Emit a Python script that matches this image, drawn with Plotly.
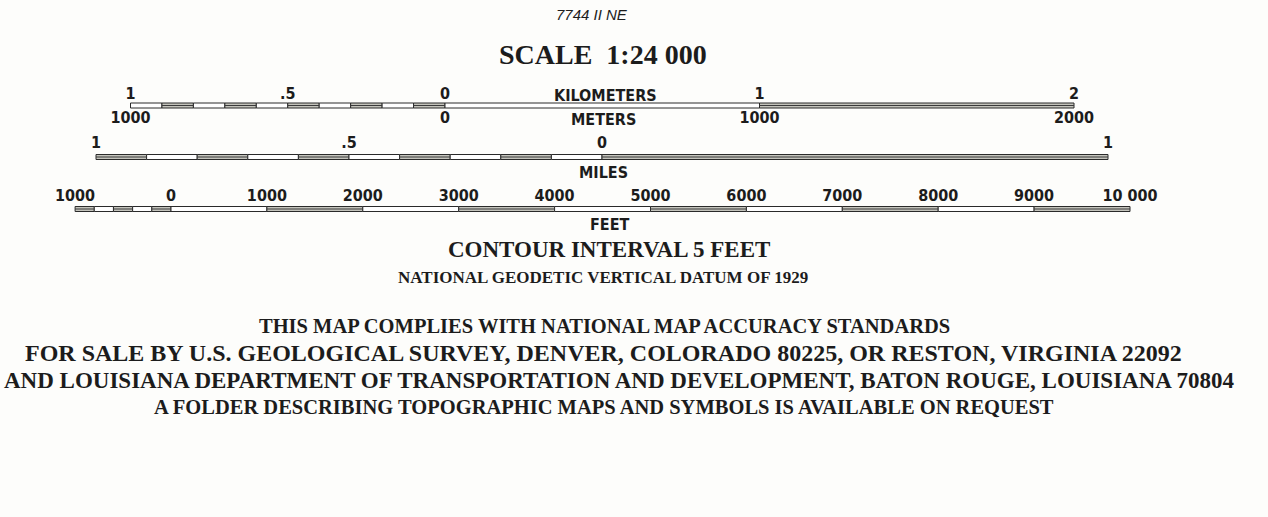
import plotly.graph_objects as go

# ---------------- data ----------------
# Kilometer / meter scale (values in km)
km_seg_start = [-1.0, -0.9, -0.8, -0.7, -0.6, -0.5, -0.4, -0.3, -0.2, -0.1, 0.0, 1.0]
km_seg_end   = [-0.9, -0.8, -0.7, -0.6, -0.5, -0.4, -0.3, -0.2, -0.1, 0.0, 1.0, 2.0]
km_seg_fill  = ["open", "shade", "open", "shade", "open", "shade", "open", "shade", "open", "shade", "open", "shade"]
km_ticks     = [-1.0, -0.5, 0.0, 1.0, 2.0]
km_labels    = ["1", ".5", "0", "1", "2"]
m_ticks      = [-1.0, 0.0, 1.0, 2.0]
m_labels     = ["1000", "0", "1000", "2000"]

# Mile scale (values in miles)
mi_seg_start = [-1.0, -0.9, -0.8, -0.7, -0.6, -0.5, -0.4, -0.3, -0.2, -0.1, 0.0]
mi_seg_end   = [-0.9, -0.8, -0.7, -0.6, -0.5, -0.4, -0.3, -0.2, -0.1, 0.0, 1.0]
mi_seg_fill  = ["shade", "open", "shade", "open", "shade", "open", "shade", "open", "shade", "open", "shade"]
mi_ticks     = [-1.0, -0.5, 0.0, 1.0]
mi_labels    = ["1", ".5", "0", "1"]

# Feet scale (values in feet)
ft_seg_start = [-1000, -800, -600, -400, -200, 0, 1000, 2000, 3000, 4000, 5000, 6000, 7000, 8000, 9000]
ft_seg_end   = [-800, -600, -400, -200, 0, 1000, 2000, 3000, 4000, 5000, 6000, 7000, 8000, 9000, 10000]
ft_seg_fill  = ["shade", "open", "shade", "open", "shade", "open", "shade", "open", "shade", "open",
                "shade", "open", "shade", "open", "shade"]
ft_ticks     = [-1000, 0, 1000, 2000, 3000, 4000, 5000, 6000, 7000, 8000, 9000, 10000]
ft_labels    = ["1000", "0", "1000", "2000", "3000", "4000", "5000", "6000", "7000", "8000", "9000", "10 000"]

# ---------------- styling ----------------
BG = "#fdfdfb"
INK = "#1c1c1c"
SHADE = "#c4c4bc"
SANS_N = "DejaVu Sans Condensed, Liberation Sans Narrow, Arial Narrow, sans-serif"
SERIF = "Liberation Serif, Times New Roman, serif"
W, H = 1268, 517

fig = go.Figure()


def add_scale(starts, ends, fills, yc, xaxis):
    lengths = [e - s for s, e in zip(starts, ends)]
    colors = ["white" if f == "open" else SHADE for f in fills]
    fig.add_trace(go.Bar(
        orientation="h", base=starts, x=lengths, y=[yc] * len(starts), width=5,
        marker=dict(color=colors, line=dict(color="#2a2a2a", width=1)),
        xaxis=xaxis, yaxis="y", hoverinfo="skip", showlegend=False,
    ))
    mx, my = [], []
    for s, e, f in zip(starts, ends, fills):
        if f == "shade":
            mx += [s, e, None]
            my += [yc, yc, None]
    fig.add_trace(go.Scatter(
        x=mx, y=my, mode="lines", line=dict(color="#3a3a3a", width=1),
        xaxis=xaxis, yaxis="y", hoverinfo="skip", showlegend=False,
    ))


def add_labels(xs, labels, yc, xaxis, size=16):
    fig.add_trace(go.Scatter(
        x=xs, y=[yc] * len(xs), text=labels, mode="text", textposition="middle center",
        textfont=dict(family=SANS_N, size=size, color=INK, weight="bold"),
        xaxis=xaxis, yaxis="y", hoverinfo="skip", showlegend=False,
    ))


add_scale(km_seg_start, km_seg_end, km_seg_fill, 105.5, "x")
add_labels(km_ticks, km_labels, 95, "x")
add_labels(m_ticks, m_labels, 119, "x")

add_scale(mi_seg_start, mi_seg_end, mi_seg_fill, 157, "x2")
add_labels(mi_ticks, mi_labels, 144, "x2")

add_scale(ft_seg_start, ft_seg_end, ft_seg_fill, 209, "x3")
add_labels(ft_ticks, ft_labels, 197, "x3")

# pixel -> unit mappings for the three overlaid axes
km_px0, km_ppu = 445.0, 314.5
mi_px0, mi_ppu = 602.0, 506.0
ft_px0, ft_ppu = 171.0, 0.0959

fig.update_layout(
    width=W, height=H,
    margin=dict(l=0, r=0, t=0, b=0),
    paper_bgcolor=BG, plot_bgcolor=BG,
    barmode="overlay",
    showlegend=False,
    xaxis=dict(range=[-km_px0 / km_ppu, (W - km_px0) / km_ppu], visible=False, domain=[0, 1]),
    xaxis2=dict(range=[-mi_px0 / mi_ppu, (W - mi_px0) / mi_ppu], visible=False,
                overlaying="x", anchor="y"),
    xaxis3=dict(range=[-ft_px0 / ft_ppu, (W - ft_px0) / ft_ppu], visible=False,
                overlaying="x", anchor="y"),
    yaxis=dict(range=[H, 0], visible=False, domain=[0, 1]),
)


def txt(text, xc, yc, size, family=SERIF, bold=True, italic=False):
    fig.add_annotation(
        x=xc / W, y=1 - yc / H, xref="paper", yref="paper", text=text, showarrow=False,
        xanchor="center", yanchor="middle",
        font=dict(family=family, size=size, color=INK,
                  weight="bold" if bold else "normal",
                  style="italic" if italic else "normal"),
    )


txt("7744 II NE", 592, 14, 15, family="Liberation Sans, Arial, sans-serif", bold=False, italic=True)
txt("SCALE&nbsp;&nbsp;1:24 000", 603, 54, 28)
txt("KILOMETERS", 605, 95, 16, family=SANS_N)
txt("METERS", 603, 120, 16, family=SANS_N)
txt("MILES", 603, 172, 16, family=SANS_N)
txt("FEET", 610, 224, 16, family=SANS_N)
txt("CONTOUR INTERVAL 5 FEET", 609, 249, 23)
txt("NATIONAL GEODETIC VERTICAL DATUM OF 1929", 603, 277, 17)
txt("THIS MAP COMPLIES WITH NATIONAL MAP ACCURACY STANDARDS", 604, 326, 20.5)
txt("FOR SALE BY U.S. GEOLOGICAL SURVEY, DENVER, COLORADO 80225, OR RESTON, VIRGINIA 22092", 603, 353, 24)
txt("AND LOUISIANA DEPARTMENT OF TRANSPORTATION AND DEVELOPMENT, BATON ROUGE, LOUISIANA 70804", 619, 380, 23)
txt("A FOLDER DESCRIBING TOPOGRAPHIC MAPS AND SYMBOLS IS AVAILABLE ON REQUEST", 604, 407, 20.5)

fig.write_html(
    "out.html",
    config={"displayModeBar": False},
    post_script="document.body.style.margin='0';document.body.style.background='%s';" % BG,
)
